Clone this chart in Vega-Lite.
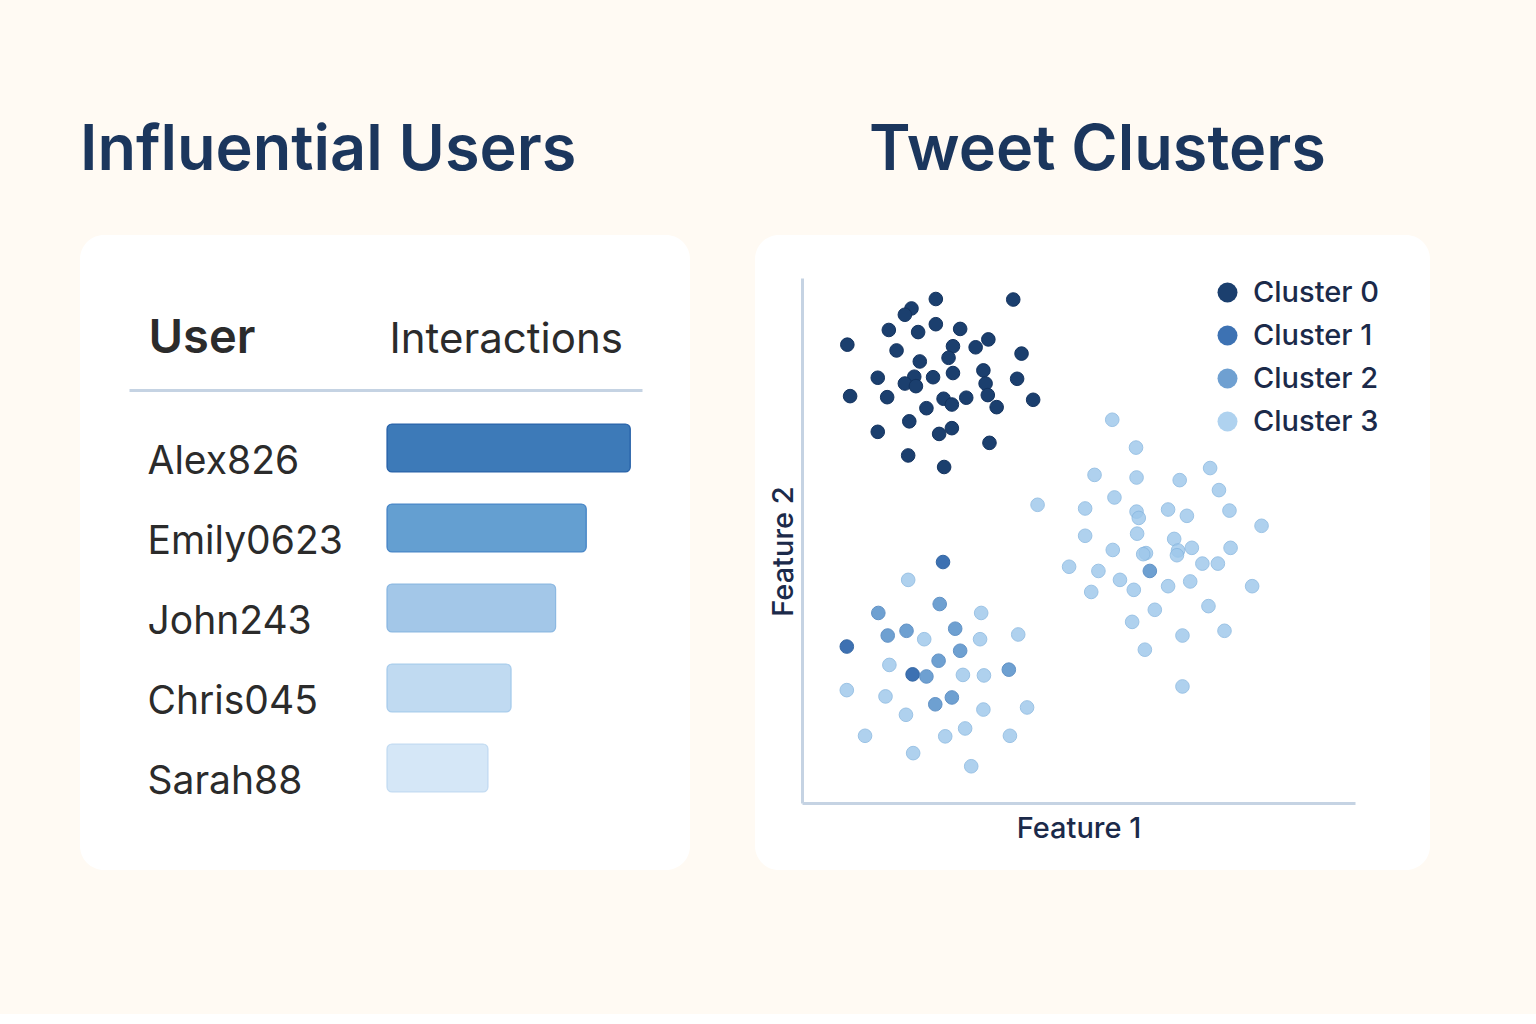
{
  "$schema": "https://vega.github.io/schema/vega-lite/v6.json",
  "background": "#FFFAF3",
  "padding": {"left": 80, "top": 120, "right": 106, "bottom": 144},
  "spacing": 65,
  "resolve": {
    "scale": {"color": "independent", "stroke": "independent", "opacity": "independent"},
    "legend": {"color": "independent", "stroke": "independent", "opacity": "independent"}
  },
  "config": {
    "font": "Inter",
    "view": {"stroke": null},
    "title": {"font": "Inter", "fontSize": 63, "fontWeight": 600, "color": "#1B365D", "baseline": "alphabetic", "offset": 52, "frame": "group"}
  },
  "datasets": {
    "users": [
      {"user": "Alex826", "interactions": 1000},
      {"user": "Emily0623", "interactions": 819},
      {"user": "John243", "interactions": 693},
      {"user": "Chris045", "interactions": 510},
      {"user": "Sarah88", "interactions": 415}
    ],
    "points": [
      {"f1": 2.42, "f2": 9.60, "cluster": "Cluster 0"},
      {"f1": 3.82, "f2": 9.59, "cluster": "Cluster 0"},
      {"f1": 1.98, "f2": 9.42, "cluster": "Cluster 0"},
      {"f1": 1.86, "f2": 9.30, "cluster": "Cluster 0"},
      {"f1": 1.57, "f2": 9.01, "cluster": "Cluster 0"},
      {"f1": 2.42, "f2": 9.12, "cluster": "Cluster 0"},
      {"f1": 2.10, "f2": 8.97, "cluster": "Cluster 0"},
      {"f1": 2.86, "f2": 9.03, "cluster": "Cluster 0"},
      {"f1": 0.82, "f2": 8.73, "cluster": "Cluster 0"},
      {"f1": 1.71, "f2": 8.62, "cluster": "Cluster 0"},
      {"f1": 2.73, "f2": 8.70, "cluster": "Cluster 0"},
      {"f1": 2.65, "f2": 8.48, "cluster": "Cluster 0"},
      {"f1": 3.14, "f2": 8.68, "cluster": "Cluster 0"},
      {"f1": 3.37, "f2": 8.83, "cluster": "Cluster 0"},
      {"f1": 3.97, "f2": 8.56, "cluster": "Cluster 0"},
      {"f1": 2.13, "f2": 8.41, "cluster": "Cluster 0"},
      {"f1": 1.37, "f2": 8.10, "cluster": "Cluster 0"},
      {"f1": 2.03, "f2": 8.12, "cluster": "Cluster 0"},
      {"f1": 1.86, "f2": 7.99, "cluster": "Cluster 0"},
      {"f1": 2.06, "f2": 7.94, "cluster": "Cluster 0"},
      {"f1": 2.37, "f2": 8.11, "cluster": "Cluster 0"},
      {"f1": 2.73, "f2": 8.19, "cluster": "Cluster 0"},
      {"f1": 3.28, "f2": 8.24, "cluster": "Cluster 0"},
      {"f1": 3.32, "f2": 7.99, "cluster": "Cluster 0"},
      {"f1": 3.36, "f2": 7.77, "cluster": "Cluster 0"},
      {"f1": 3.89, "f2": 8.08, "cluster": "Cluster 0"},
      {"f1": 0.87, "f2": 7.75, "cluster": "Cluster 0"},
      {"f1": 1.54, "f2": 7.73, "cluster": "Cluster 0"},
      {"f1": 2.56, "f2": 7.70, "cluster": "Cluster 0"},
      {"f1": 2.71, "f2": 7.59, "cluster": "Cluster 0"},
      {"f1": 2.97, "f2": 7.72, "cluster": "Cluster 0"},
      {"f1": 3.52, "f2": 7.54, "cluster": "Cluster 0"},
      {"f1": 4.18, "f2": 7.68, "cluster": "Cluster 0"},
      {"f1": 2.25, "f2": 7.52, "cluster": "Cluster 0"},
      {"f1": 1.94, "f2": 7.27, "cluster": "Cluster 0"},
      {"f1": 1.37, "f2": 7.07, "cluster": "Cluster 0"},
      {"f1": 2.71, "f2": 7.14, "cluster": "Cluster 0"},
      {"f1": 2.48, "f2": 7.03, "cluster": "Cluster 0"},
      {"f1": 3.39, "f2": 6.86, "cluster": "Cluster 0"},
      {"f1": 1.92, "f2": 6.62, "cluster": "Cluster 0"},
      {"f1": 2.57, "f2": 6.40, "cluster": "Cluster 0"},
      {"f1": 5.61, "f2": 7.30, "cluster": "Cluster 3"},
      {"f1": 6.04, "f2": 6.77, "cluster": "Cluster 3"},
      {"f1": 5.29, "f2": 6.25, "cluster": "Cluster 3"},
      {"f1": 6.05, "f2": 6.20, "cluster": "Cluster 3"},
      {"f1": 6.83, "f2": 6.15, "cluster": "Cluster 3"},
      {"f1": 7.38, "f2": 6.38, "cluster": "Cluster 3"},
      {"f1": 7.54, "f2": 5.96, "cluster": "Cluster 3"},
      {"f1": 4.26, "f2": 5.68, "cluster": "Cluster 3"},
      {"f1": 5.65, "f2": 5.82, "cluster": "Cluster 3"},
      {"f1": 5.12, "f2": 5.61, "cluster": "Cluster 3"},
      {"f1": 6.05, "f2": 5.55, "cluster": "Cluster 3"},
      {"f1": 6.09, "f2": 5.43, "cluster": "Cluster 3"},
      {"f1": 6.62, "f2": 5.59, "cluster": "Cluster 3"},
      {"f1": 6.96, "f2": 5.47, "cluster": "Cluster 3"},
      {"f1": 7.73, "f2": 5.57, "cluster": "Cluster 3"},
      {"f1": 8.31, "f2": 5.28, "cluster": "Cluster 3"},
      {"f1": 5.12, "f2": 5.09, "cluster": "Cluster 3"},
      {"f1": 6.06, "f2": 5.13, "cluster": "Cluster 3"},
      {"f1": 6.73, "f2": 5.03, "cluster": "Cluster 3"},
      {"f1": 6.80, "f2": 4.81, "cluster": "Cluster 3"},
      {"f1": 6.78, "f2": 4.72, "cluster": "Cluster 3"},
      {"f1": 7.05, "f2": 4.86, "cluster": "Cluster 3"},
      {"f1": 7.75, "f2": 4.86, "cluster": "Cluster 3"},
      {"f1": 5.62, "f2": 4.82, "cluster": "Cluster 3"},
      {"f1": 6.22, "f2": 4.76, "cluster": "Cluster 3"},
      {"f1": 6.17, "f2": 4.74, "cluster": "Cluster 3"},
      {"f1": 4.83, "f2": 4.50, "cluster": "Cluster 3"},
      {"f1": 5.36, "f2": 4.42, "cluster": "Cluster 3"},
      {"f1": 6.29, "f2": 4.42, "cluster": "Cluster 2"},
      {"f1": 7.24, "f2": 4.56, "cluster": "Cluster 3"},
      {"f1": 7.52, "f2": 4.56, "cluster": "Cluster 3"},
      {"f1": 5.75, "f2": 4.25, "cluster": "Cluster 3"},
      {"f1": 6.00, "f2": 4.06, "cluster": "Cluster 3"},
      {"f1": 6.62, "f2": 4.13, "cluster": "Cluster 3"},
      {"f1": 7.02, "f2": 4.22, "cluster": "Cluster 3"},
      {"f1": 8.14, "f2": 4.13, "cluster": "Cluster 3"},
      {"f1": 5.23, "f2": 4.02, "cluster": "Cluster 3"},
      {"f1": 6.38, "f2": 3.68, "cluster": "Cluster 3"},
      {"f1": 7.35, "f2": 3.75, "cluster": "Cluster 3"},
      {"f1": 5.97, "f2": 3.45, "cluster": "Cluster 3"},
      {"f1": 6.88, "f2": 3.19, "cluster": "Cluster 3"},
      {"f1": 7.64, "f2": 3.28, "cluster": "Cluster 3"},
      {"f1": 6.20, "f2": 2.92, "cluster": "Cluster 3"},
      {"f1": 6.88, "f2": 2.22, "cluster": "Cluster 3"},
      {"f1": 2.55, "f2": 4.59, "cluster": "Cluster 1"},
      {"f1": 1.92, "f2": 4.25, "cluster": "Cluster 3"},
      {"f1": 1.38, "f2": 3.62, "cluster": "Cluster 2"},
      {"f1": 2.49, "f2": 3.79, "cluster": "Cluster 2"},
      {"f1": 3.24, "f2": 3.62, "cluster": "Cluster 3"},
      {"f1": 1.55, "f2": 3.19, "cluster": "Cluster 2"},
      {"f1": 1.89, "f2": 3.28, "cluster": "Cluster 2"},
      {"f1": 2.21, "f2": 3.12, "cluster": "Cluster 3"},
      {"f1": 2.77, "f2": 3.32, "cluster": "Cluster 2"},
      {"f1": 3.22, "f2": 3.12, "cluster": "Cluster 3"},
      {"f1": 3.91, "f2": 3.21, "cluster": "Cluster 3"},
      {"f1": 0.81, "f2": 2.98, "cluster": "Cluster 1"},
      {"f1": 2.86, "f2": 2.90, "cluster": "Cluster 2"},
      {"f1": 1.58, "f2": 2.63, "cluster": "Cluster 3"},
      {"f1": 2.47, "f2": 2.71, "cluster": "Cluster 2"},
      {"f1": 2.00, "f2": 2.45, "cluster": "Cluster 1"},
      {"f1": 2.25, "f2": 2.41, "cluster": "Cluster 2"},
      {"f1": 2.91, "f2": 2.44, "cluster": "Cluster 3"},
      {"f1": 3.29, "f2": 2.43, "cluster": "Cluster 3"},
      {"f1": 3.74, "f2": 2.54, "cluster": "Cluster 2"},
      {"f1": 0.81, "f2": 2.15, "cluster": "Cluster 3"},
      {"f1": 1.51, "f2": 2.03, "cluster": "Cluster 3"},
      {"f1": 2.41, "f2": 1.88, "cluster": "Cluster 2"},
      {"f1": 2.71, "f2": 2.01, "cluster": "Cluster 2"},
      {"f1": 1.88, "f2": 1.68, "cluster": "Cluster 3"},
      {"f1": 3.28, "f2": 1.78, "cluster": "Cluster 3"},
      {"f1": 4.07, "f2": 1.82, "cluster": "Cluster 3"},
      {"f1": 1.14, "f2": 1.28, "cluster": "Cluster 3"},
      {"f1": 2.59, "f2": 1.27, "cluster": "Cluster 3"},
      {"f1": 2.95, "f2": 1.42, "cluster": "Cluster 3"},
      {"f1": 3.76, "f2": 1.28, "cluster": "Cluster 3"},
      {"f1": 2.01, "f2": 0.95, "cluster": "Cluster 3"},
      {"f1": 3.06, "f2": 0.70, "cluster": "Cluster 3"}
    ]
  },
  "hconcat": [
    {
      "width": 610,
      "height": 635,
      "view": {"fill": "#FFFFFF", "cornerRadius": 24, "stroke": null},
      "title": {"text": "Influential Users", "anchor": "start"},
      "data": {"name": "users"},
      "mark": {"type": "bar", "cornerRadius": 5, "strokeWidth": 1.2},
      "encoding": {
        "y": {
          "field": "user", "type": "nominal", "sort": null,
          "scale": {"range": [155, 591], "paddingInner": 0.4, "paddingOuter": 0.425},
          "axis": {
            "orient": "left", "title": "User", "titleAngle": 0, "titleX": 68, "titleY": 117,
            "titleAlign": "left", "titleBaseline": "alphabetic", "titleFontSize": 47,
            "titleFontWeight": 600, "titleColor": "#2B2B2B", "domain": false, "ticks": false,
            "tickSize": 0, "labelAlign": "left", "labelPadding": -67, "labelFontSize": 39,
            "labelColor": "#2B2B2B", "labelBaseline": "alphabetic", "labelOffset": 26, "labelLimit": 0
          }
        },
        "x": {
          "field": "interactions", "type": "quantitative",
          "scale": {"domain": [-1060.4, 1048.1], "range": [49, 562], "nice": false},
          "axis": {
            "orient": "top", "offset": -155, "domain": true, "domainColor": "#C5D3E3", "domainWidth": 3,
            "ticks": false, "labels": false, "grid": false, "title": "Interactions",
            "titleX": 309, "titleY": -38, "titleAlign": "left", "titleBaseline": "alphabetic",
            "titleFontSize": 42, "titleFontWeight": 400, "titleColor": "#2B2B2B"
          }
        },
        "color": {
          "field": "user", "type": "nominal", "sort": null,
          "scale": {"domain": ["Alex826", "Emily0623", "John243", "Chris045", "Sarah88"], "range": ["#3D7AB8", "#649FD1", "#A3C7E8", "#C0DAF1", "#D5E7F7"]},
          "legend": null
        },
        "stroke": {
          "field": "user", "type": "nominal", "sort": null,
          "scale": {"domain": ["Alex826", "Emily0623", "John243", "Chris045", "Sarah88"], "range": ["#2A64AA", "#4A88C8", "#8DB9E2", "#AACDEC", "#C4DCF2"]},
          "legend": null
        }
      }
    },
    {
      "width": 675,
      "height": 635,
      "view": {"fill": "#FFFFFF", "cornerRadius": 24, "stroke": null},
      "title": {"text": "Tweet Clusters", "anchor": "middle", "dx": 5},
      "data": {"name": "points"},
      "mark": {"type": "circle", "size": 185, "strokeWidth": 1},
      "encoding": {
        "x": {
          "field": "f1", "type": "quantitative",
          "scale": {"domain": [0, 10], "range": [47, 600], "nice": false, "zero": false},
          "axis": {
            "orient": "bottom", "offset": -67, "domainColor": "#C5D3E3", "domainWidth": 3,
            "ticks": false, "labels": false, "grid": false, "title": "Feature 1",
            "titleFontSize": 29, "titleFontWeight": 500, "titleColor": "#1B2A4A",
            "titleBaseline": "alphabetic", "titleY": 34
          }
        },
        "y": {
          "field": "f2", "type": "quantitative",
          "scale": {"domain": [0, 10], "range": [568, 43], "nice": false, "zero": false},
          "axis": {
            "orient": "left", "offset": -47, "domainColor": "#C5D3E3", "domainWidth": 3,
            "ticks": false, "labels": false, "grid": false, "title": "Feature 2",
            "titleFontSize": 29, "titleFontWeight": 500, "titleColor": "#1B2A4A",
            "titleAngle": -90, "titleBaseline": "alphabetic", "titleAlign": "center",
            "titleX": -10, "titleY": 316
          }
        },
        "color": {
          "field": "cluster", "type": "nominal",
          "scale": {"domain": ["Cluster 0", "Cluster 1", "Cluster 2", "Cluster 3"], "range": ["#1B3F6E", "#3169AE", "#5B93CB", "#9EC8EB"]},
          "legend": {
            "orient": "none", "legendX": 458, "legendY": 43, "title": null, "symbolType": "circle",
            "symbolSize": 400, "symbolStrokeWidth": 0, "symbolOpacity": 1, "labelFontSize": 29,
            "labelFontWeight": 500, "labelColor": "#1B2A4A", "labelOffset": 11, "rowPadding": 13, "padding": 0
          }
        },
        "stroke": {
          "field": "cluster", "type": "nominal",
          "scale": {"domain": ["Cluster 0", "Cluster 1", "Cluster 2", "Cluster 3"], "range": ["#13335F", "#2A5F9F", "#4C84BF", "#86B6E0"]},
          "legend": null
        },
        "opacity": {
          "field": "cluster", "type": "ordinal",
          "scale": {"domain": ["Cluster 0", "Cluster 1", "Cluster 2", "Cluster 3"], "range": [1, 0.82, 0.85, 1]},
          "legend": null
        }
      }
    }
  ]
}
